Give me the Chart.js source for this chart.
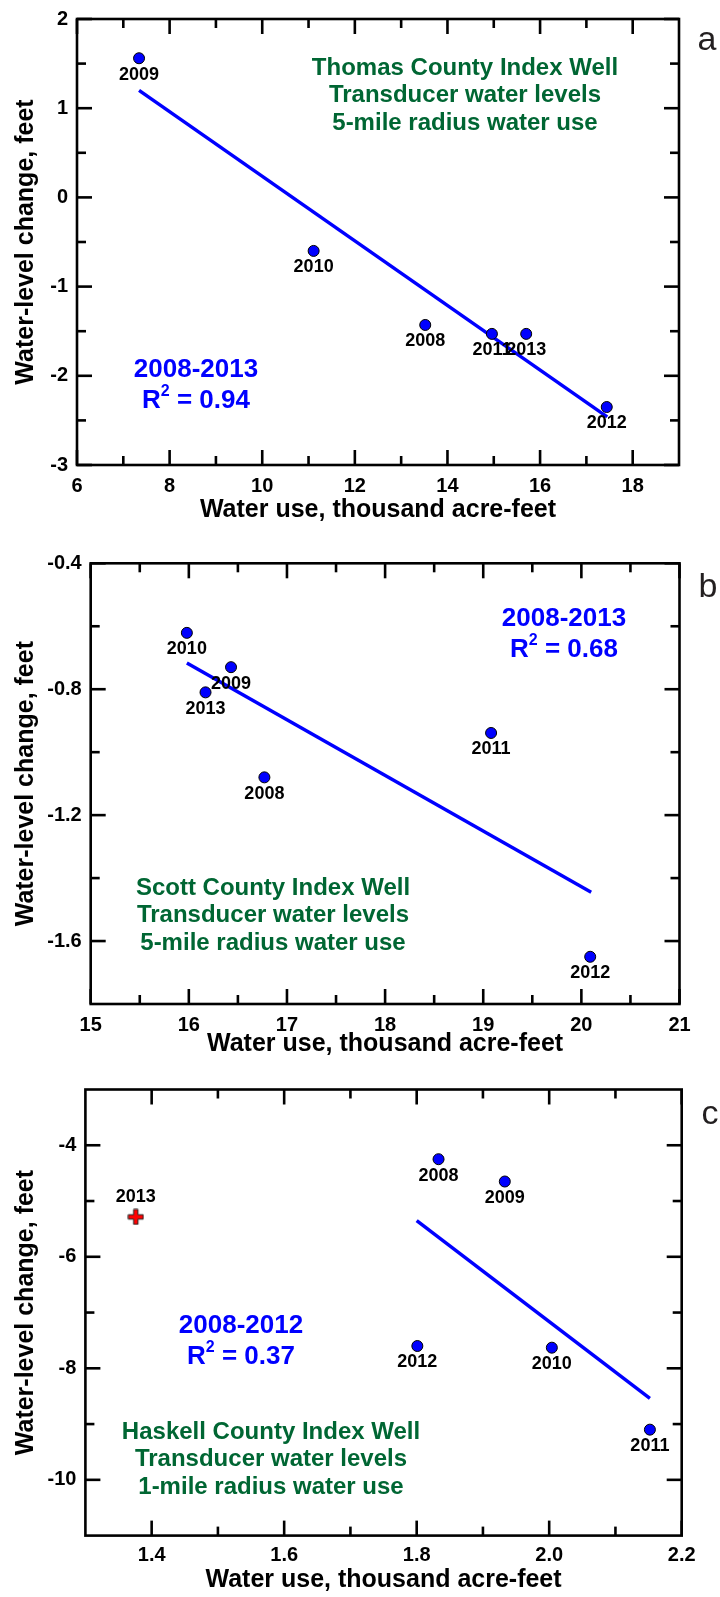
<!DOCTYPE html>
<html><head><meta charset="utf-8">
<script src="https://cdn.jsdelivr.net/npm/chart.js@4"></script>
<style>
html,body{margin:0;padding:0;background:#fff;}
body{width:720px;height:1597px;position:relative;overflow:hidden;}
canvas{position:absolute;left:0;}
</style></head><body>
<canvas id="ca" width="720" height="525" style="top:0px"></canvas>
<canvas id="cb" width="720" height="535" style="top:525px"></canvas>
<canvas id="cc" width="720" height="537" style="top:1060px"></canvas>
<script>
// ---------- Panel a: Thomas County ----------
const aYears = ['2009', '2010', '2008', '2011', '2013', '2012'];
const aWaterUse = [7.34, 11.11, 13.52, 14.96, 15.70, 17.44];
const aLevelChange = [1.56, -0.60, -1.43, -1.53, -1.53, -2.35];
const aTrendX = [7.34, 17.45];
const aTrendY = [1.20, -2.46];
const aXTicks = [6, 8, 10, 12, 14, 16, 18];
const aXMinor = [7, 9, 11, 13, 15, 17];
const aYTicks = [-3, -2, -1, 0, 1, 2];
const aYMinor = [-2.5, -1.5, -0.5, 0.5, 1.5];
const aPeriod = '2008-2013';
const aR2 = '0.94';
const aWell = ['Thomas County Index Well', 'Transducer water levels', '5-mile radius water use'];

// ---------- Panel b: Scott County ----------
const bYears = ['2010', '2009', '2013', '2008', '2011', '2012'];
const bWaterUse = [15.98, 16.43, 16.17, 16.77, 19.08, 20.09];
const bLevelChange = [-0.621, -0.730, -0.810, -1.080, -0.939, -1.650];
const bTrendX = [15.98, 20.10];
const bTrendY = [-0.717, -1.445];
const bXTicks = [15, 16, 17, 18, 19, 20, 21];
const bXMinor = [15.5, 16.5, 17.5, 18.5, 19.5, 20.5];
const bYTicks = [-1.6, -1.2, -0.8, -0.4];
const bYMinor = [-1.4, -1.0, -0.6];
const bPeriod = '2008-2013';
const bR2 = '0.68';
const bWell = ['Scott County Index Well', 'Transducer water levels', '5-mile radius water use'];

// ---------- Panel c: Haskell County ----------
const cYears = ['2008', '2009', '2012', '2010', '2011'];
const cWaterUse = [1.833, 1.933, 1.801, 2.004, 2.152];
const cLevelChange = [-4.25, -4.65, -7.60, -7.63, -9.10];
const cExcludedYears = ['2013'];
const cExcludedUse = [1.376];
const cExcludedChange = [-5.285];
const cTrendX = [1.80, 2.152];
const cTrendY = [-5.35, -8.54];
const cXTicks = [1.4, 1.6, 1.8, 2.0, 2.2];
const cXMinor = [1.5, 1.7, 1.9, 2.1];
const cYTicks = [-10, -8, -6, -4];
const cYMinor = [-9, -7, -5];
const cPeriod = '2008-2012';
const cR2 = '0.37';
const cWell = ['Haskell County Index Well', 'Transducer water levels', '1-mile radius water use'];

const X_TITLE = 'Water use, thousand acre-feet';
const Y_TITLE = 'Water-level change, feet';

const FF = "'Liberation Sans', Arial, Helvetica, sans-serif";
const GREEN = '#006633';
const BLUE = '#0000ff';

function makeCross() {
  const c = document.createElement('canvas');
  c.width = 17; c.height = 17;
  const g = c.getContext('2d');
  const cx = 8.5, cy = 8.5, h = 7.5, w = 2.2;
  g.beginPath();
  g.moveTo(cx - w, cy - h); g.lineTo(cx + w, cy - h); g.lineTo(cx + w, cy - w);
  g.lineTo(cx + h, cy - w); g.lineTo(cx + h, cy + w); g.lineTo(cx + w, cy + w);
  g.lineTo(cx + w, cy + h); g.lineTo(cx - w, cy + h); g.lineTo(cx - w, cy + w);
  g.lineTo(cx - h, cy + w); g.lineTo(cx - h, cy - w); g.lineTo(cx - w, cy - w);
  g.closePath();
  g.fillStyle = '#ff0000'; g.fill();
  g.strokeStyle = '#222'; g.lineWidth = 1; g.stroke();
  return c;
}

function drawR2(ctx, cx, cy, value, size) {
  const big = `bold ${size}px ${FF}`;
  const small = `bold ${Math.round(size * 0.6)}px ${FF}`;
  const rest = ' = ' + value;
  ctx.font = big;
  const wR = ctx.measureText('R').width;
  const wRest = ctx.measureText(rest).width;
  ctx.font = small;
  const w2 = ctx.measureText('2').width;
  let x = cx - (wR + w2 + wRest) / 2;
  ctx.textAlign = 'left';
  ctx.textBaseline = 'middle';
  ctx.font = big; ctx.fillText('R', x, cy); x += wR;
  ctx.font = small; ctx.fillText('2', x, cy - size * 0.36); x += w2;
  ctx.font = big; ctx.fillText(rest, x, cy);
}

function buildChart(id, s) {
  const datasets = [
    { data: s.xs.map((x, i) => ({ x, y: s.ys[i] })), backgroundColor: BLUE, borderColor: '#000',
      borderWidth: 1, pointRadius: 5.5, pointHoverRadius: 5.5 }
  ];
  if (s.exX) {
    datasets.push({ data: s.exX.map((x, i) => ({ x, y: s.exY[i] })), pointStyle: makeCross(),
      pointRadius: 8, pointHoverRadius: 8 });
  }
  datasets.push({ data: s.tX.map((x, i) => ({ x, y: s.tY[i] })), showLine: true, borderColor: BLUE,
    borderWidth: 3.5, pointRadius: 0, pointHoverRadius: 0, fill: false });

  const deco = {
    id: 'deco' + id,
    beforeDatasetsDraw(chart) {
      const { ctx, chartArea: a, scales: { x, y } } = chart;
      ctx.save();
      ctx.strokeStyle = '#000';
      ctx.lineWidth = 2.6;
      const seg = (x1, y1, x2, y2) => { ctx.beginPath(); ctx.moveTo(x1, y1); ctx.lineTo(x2, y2); ctx.stroke(); };
      const xt = (vals, len) => vals.forEach(v => {
        const p = x.getPixelForValue(v);
        seg(p, a.bottom, p, a.bottom - len); seg(p, a.top, p, a.top + len);
      });
      const yt = (vals, len) => vals.forEach(v => {
        const p = y.getPixelForValue(v);
        seg(a.left, p, a.left + len, p); seg(a.right, p, a.right - len, p);
      });
      xt(s.xTicks, 15); xt(s.xMinor, 9); yt(s.yTicks, 15); yt(s.yMinor, 9);
      ctx.strokeRect(a.left, a.top, a.right - a.left, a.bottom - a.top);
      ctx.restore();
    },
    afterDatasetsDraw(chart) {
      const ctx = chart.ctx;
      ctx.save();
      // point labels
      ctx.fillStyle = '#000';
      ctx.font = `bold 18px ${FF}`;
      ctx.textAlign = 'center';
      ctx.textBaseline = 'middle';
      chart.getDatasetMeta(0).data.forEach((el, i) => {
        ctx.fillText(s.years[i], el.x, el.y + 16.5);
      });
      if (s.exX) {
        chart.getDatasetMeta(1).data.forEach((el, i) => {
          ctx.fillText(s.exYears[i], el.x, el.y - 20);
        });
      }
      // well description
      ctx.fillStyle = GREEN;
      ctx.font = `bold 24px ${FF}`;
      s.well.forEach((t, i) => ctx.fillText(t, s.wellPos[0], s.wellPos[1] + i * 27.6));
      // period and R2
      ctx.fillStyle = BLUE;
      ctx.font = `bold 26px ${FF}`;
      ctx.fillText(s.period, s.statPos[0], s.statPos[1]);
      drawR2(ctx, s.statPos[0], s.statPos[1] + 31, s.r2, 26);
      // panel letter
      ctx.fillStyle = '#231f20';
      ctx.font = `34px ${FF}`;
      ctx.textAlign = 'center';
      ctx.textBaseline = 'alphabetic';
      ctx.fillText(s.letter, s.letterPos[0], s.letterPos[1]);
      ctx.restore();
    }
  };

  const tickFont = { family: FF, size: 20, weight: 'bold', lineHeight: 1 };
  const titleFont = { family: FF, size: 25, weight: 'bold', lineHeight: 1 };

  return new Chart(document.getElementById(id), {
    type: 'scatter',
    data: { datasets },
    options: {
      responsive: false, animation: false, events: [],
      layout: { padding: { left: 0, top: s.padTop, right: s.padRight, bottom: 0 } },
      plugins: { legend: { display: false }, tooltip: { enabled: false } },
      scales: {
        x: {
          type: 'linear', position: 'bottom', min: s.xMin, max: s.xMax,
          afterBuildTicks: sc => { sc.ticks = s.xTicks.map(v => ({ value: v })); },
          afterFit: sc => { sc.height = s.xH; },
          grid: { display: false, drawTicks: false }, border: { display: false },
          ticks: { autoSkip: false, maxRotation: 0, minRotation: 0, padding: s.xTickPad, color: '#000',
            font: tickFont, callback: s.xFmt },
          title: { display: true, text: X_TITLE, color: '#000', font: titleFont,
            padding: { top: 0, bottom: s.xTitlePad } }
        },
        y: {
          type: 'linear', position: 'left', min: s.yMin, max: s.yMax,
          afterBuildTicks: sc => { sc.ticks = s.yTicks.map(v => ({ value: v })); },
          afterFit: sc => { sc.width = s.yW; },
          grid: { display: false, drawTicks: false }, border: { display: false },
          ticks: { autoSkip: false, padding: 9, color: '#000', font: tickFont, callback: s.yFmt },
          title: { display: true, text: Y_TITLE, color: '#000', font: titleFont,
            padding: { top: 13.5, bottom: 0 } }
        }
      }
    },
    plugins: [deco]
  });
}

buildChart('ca', {
  xs: aWaterUse, ys: aLevelChange, years: aYears, tX: aTrendX, tY: aTrendY,
  xTicks: aXTicks, xMinor: aXMinor, yTicks: aYTicks, yMinor: aYMinor,
  xMin: 6, xMax: 19, yMin: -3, yMax: 2,
  xFmt: v => String(v), yFmt: v => String(v),
  padTop: 14.3, padRight: 41, yW: 77, xH: 60, xTickPad: 11, xTitlePad: 2,
  well: aWell, wellPos: [465, 68], period: aPeriod, r2: aR2, statPos: [196, 370],
  letter: 'a', letterPos: [707, 50]
});

buildChart('cb', {
  xs: bWaterUse, ys: bLevelChange, years: bYears, tX: bTrendX, tY: bTrendY,
  xTicks: bXTicks, xMinor: bXMinor, yTicks: bYTicks, yMinor: bYMinor,
  xMin: 15, xMax: 21, yMin: -1.8, yMax: -0.4,
  xFmt: v => String(v), yFmt: v => v.toFixed(1),
  padTop: 38.3, padRight: 40.5, yW: 90.7, xH: 56, xTickPad: 11, xTitlePad: 3.5,
  well: bWell, wellPos: [273, 363], period: bPeriod, r2: bR2, statPos: [564, 94],
  letter: 'b', letterPos: [708, 72]
});

buildChart('cc', {
  xs: cWaterUse, ys: cLevelChange, years: cYears, tX: cTrendX, tY: cTrendY,
  exX: cExcludedUse, exY: cExcludedChange, exYears: cExcludedYears,
  xTicks: cXTicks, xMinor: cXMinor, yTicks: cYTicks, yMinor: cYMinor,
  xMin: 1.3, xMax: 2.2, yMin: -11, yMax: -3,
  xFmt: v => v.toFixed(1), yFmt: v => String(v),
  padTop: 29.5, padRight: 38.3, yW: 85.4, xH: 61.4, xTickPad: 10, xTitlePad: 4,
  well: cWell, wellPos: [271, 372], period: cPeriod, r2: cR2, statPos: [241, 266],
  letter: 'c', letterPos: [710, 63.5]
});
</script>
</body></html>
